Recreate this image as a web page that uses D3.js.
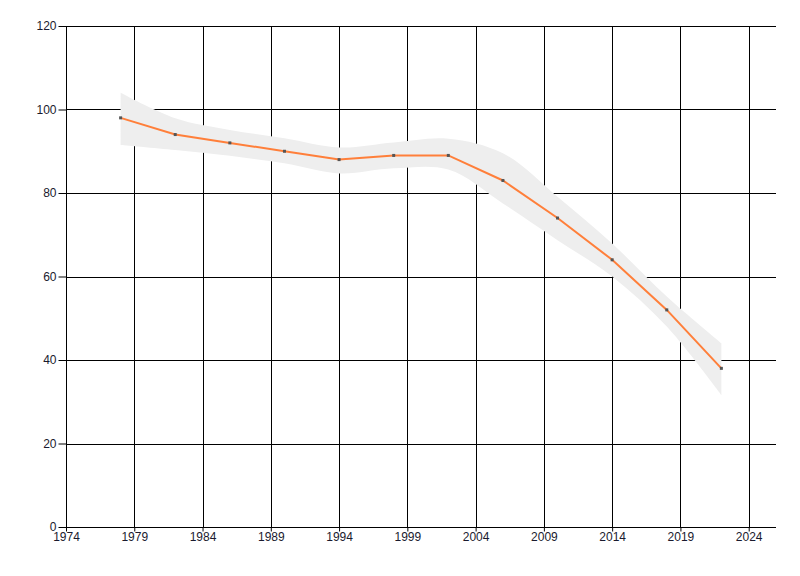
<!DOCTYPE html>
<html>
<head>
<meta charset="utf-8">
<script src="https://cdn.jsdelivr.net/npm/d3@7"></script>
<style>
  body { margin: 0; background: #fff; }
  .axis text { font: 12px "Liberation Sans", Arial, sans-serif; fill: #1a1a2e; }
</style>
</head>
<body>
<div id="chart"></div>
<script>
// ------------------------------------------------------------
// data
// ------------------------------------------------------------
var years  = [1978, 1982, 1986, 1990, 1994, 1998, 2002, 2006, 2010, 2014, 2018, 2022];
var values = [98, 94, 92, 90, 88, 89, 89, 83, 74, 64, 52, 38];
var upper  = [104, 97.9, 95.1, 93.1, 90.9, 92.1, 93, 89.5, 79.1, 67.9, 55.2, 44];
var lower  = [91.5, 90.3, 88.9, 87.1, 84.7, 85.9, 85.6, 77.5, 68.7, 60, 48, 31.6];
var xTicks = [1974, 1979, 1984, 1989, 1994, 1999, 2004, 2009, 2014, 2019, 2024];
var yTicks = [0, 20, 40, 60, 80, 100, 120];

// ------------------------------------------------------------
// layout
// ------------------------------------------------------------
var W = 800, H = 576;
var margin = {top: 26, right: 24, bottom: 49, left: 66};
var width = W - margin.left - margin.right;
var height = H - margin.top - margin.bottom;

var x = d3.scaleLinear().domain([1974, 2026]).range([0, width]);
var y = d3.scaleLinear().domain([0, 120]).range([height, 0]);

var data = years.map(function(d, i) {
  return {year: d, value: values[i], hi: upper[i], lo: lower[i]};
});

var svg = d3.select("#chart").append("svg")
    .attr("width", W)
    .attr("height", H)
  .append("g")
    .attr("transform", "translate(" + margin.left + "," + margin.top + ")");

// grid lines
svg.append("g")
  .selectAll("line")
  .data(xTicks)
  .enter().append("line")
    .attr("x1", function(d) { return Math.round(x(d)) + 0.5; })
    .attr("x2", function(d) { return Math.round(x(d)) + 0.5; })
    .attr("y1", 0)
    .attr("y2", height)
    .attr("stroke", "#000");

svg.append("g")
  .selectAll("line")
  .data(yTicks)
  .enter().append("line")
    .attr("x1", 0)
    .attr("x2", width)
    .attr("y1", function(d) { return Math.round(y(d)) + 0.5; })
    .attr("y2", function(d) { return Math.round(y(d)) + 0.5; })
    .attr("stroke", "#000");

// confidence band
var band = d3.area()
    .x(function(d) { return x(d.year); })
    .y0(function(d) { return y(d.lo); })
    .y1(function(d) { return y(d.hi); })
    .curve(d3.curveCatmullRom.alpha(0.5));

svg.append("path")
    .datum(data)
    .attr("fill", "#eeeeee")
    .attr("d", band);

// line
var line = d3.line()
    .x(function(d) { return x(d.year); })
    .y(function(d) { return y(d.value); });

svg.append("path")
    .datum(data)
    .attr("fill", "none")
    .attr("stroke", "#ff7f3a")
    .attr("stroke-width", 2)
    .attr("d", line);

// points
svg.selectAll(".pt")
    .data(data)
  .enter().append("rect")
    .attr("class", "pt")
    .attr("x", function(d) { return x(d.year) - 1.5; })
    .attr("y", function(d) { return y(d.value) - 1.5; })
    .attr("width", 3)
    .attr("height", 3)
    .attr("fill", "#555");

// axes
svg.append("g")
    .attr("class", "axis")
    .attr("transform", "translate(0," + (Math.round(height) + 0.5) + ")")
    .call(d3.axisBottom(x).tickValues(xTicks).tickFormat(d3.format("d")).tickSize(4).tickPadding(1))
    .call(function(g) { g.select(".domain").attr("d", "M0,0H" + width); });

svg.append("g")
    .attr("class", "axis")
    .attr("transform", "translate(0.5,0)")
    .call(d3.axisLeft(y).tickValues(yTicks).tickSize(8).tickPadding(2))
    .call(function(g) { g.select(".domain").attr("d", "M0,0V" + height); });
</script>
</body>
</html>
